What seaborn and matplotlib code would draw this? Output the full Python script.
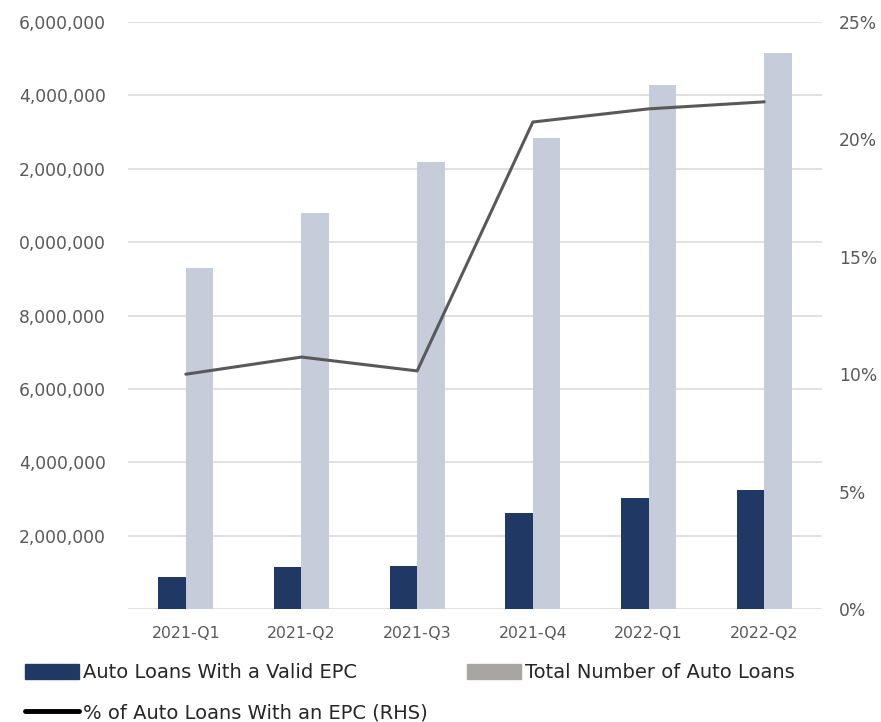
import matplotlib
matplotlib.use("Agg")
import matplotlib.pyplot as plt
import seaborn as sns
import pandas as pd
import numpy as np
from matplotlib.patches import Patch
from matplotlib.lines import Line2D

quarters = ["2021-Q1", "2021-Q2", "2021-Q3", "2021-Q4", "2022-Q1", "2022-Q2"]
epc_loans = [870000, 1140000, 1170000, 2620000, 3020000, 3240000]
total_loans = [9290000, 10790000, 12180000, 12830000, 14280000, 15150000]
pct_epc = [0.100, 0.1073, 0.1014, 0.2074, 0.2130, 0.2160]
left_ticks = [0, 2000000, 4000000, 6000000, 8000000, 10000000, 12000000, 14000000, 16000000]
left_tick_labels = ["", "2,000,000", "4,000,000", "6,000,000", "8,000,000",
                    "0,000,000", "2,000,000", "4,000,000", "6,000,000"]
right_ticks = [0, 0.05, 0.10, 0.15, 0.20, 0.25]
right_tick_labels = ["0%", "5%", "10%", "15%", "20%", "25%"]
series_names = ["Auto Loans With a Valid EPC", "Total Number of Auto Loans"]
line_name = "% of Auto Loans With an EPC (RHS)"

dark = "#1F3864"
light = "#C6CCD9"
legend_gray = "#A8A5A5"
line_col = "#595959"
tick_col = "#595959"
grid_col = "#D9D9D9"

sns.set_style("white")
plt.rcParams["font.family"] = ["DejaVu Sans"]

df = pd.DataFrame({
    "Quarter": quarters * 2,
    "Value": epc_loans + total_loans,
    "Series": [series_names[0]] * len(quarters) + [series_names[1]] * len(quarters),
})

fig = plt.figure(figsize=(8.81, 7.22), dpi=100)
ax = fig.add_axes([128 / 881, 1 - 609 / 722, (822 - 128) / 881, (609 - 22) / 722])

sns.barplot(data=df, x="Quarter", y="Value", hue="Series", order=quarters,
            hue_order=series_names, palette=[dark, light], width=0.475,
            saturation=1, ax=ax, legend=False, linewidth=0)

ax.set_xlim(-0.5, len(quarters) - 0.5)
ax.set_ylim(0, 16000000)
ax.set_yticks(left_ticks)
ax.set_yticklabels(left_tick_labels)
ax.set_xlabel("")
ax.set_ylabel("")
for s in ax.spines.values():
    s.set_visible(False)
ax.grid(axis="y", color=grid_col, linewidth=1.1)
ax.set_axisbelow(True)
ax.tick_params(axis="y", length=0, pad=16, labelsize=12.3, labelcolor=tick_col)
ax.tick_params(axis="x", length=0, pad=12, labelsize=11.3, labelcolor=tick_col)

ax2 = ax.twinx()
sns.lineplot(x=np.arange(len(quarters)), y=pct_epc, ax=ax2, color=line_col,
             linewidth=2.2, sort=False)
ax2.set_ylim(0, 0.25)
ax2.set_yticks(right_ticks)
ax2.set_yticklabels(right_tick_labels)
ax2.set_xlim(-0.5, len(quarters) - 0.5)
for s in ax2.spines.values():
    s.set_visible(False)
ax2.tick_params(axis="y", length=0, pad=12, labelsize=12.3, labelcolor=tick_col)
ax2.grid(False)

handles = [
    Patch(facecolor=dark, edgecolor=dark),
    Line2D([0], [0], color="black", linewidth=3.5),
    Patch(facecolor=legend_gray, edgecolor=legend_gray),
]
labels = [series_names[0], line_name, series_names[1]]
fig.legend(handles, labels, ncol=2, loc="upper left",
           bbox_to_anchor=(25 / 881, 1 - 663 / 722), frameon=False,
           prop={"family": ["DejaVu Sans"], "size": 14},
           handlelength=2.8, handleheight=0.8, handletextpad=0.2,
           columnspacing=2.0, labelspacing=1.1, borderaxespad=0, borderpad=0,
           labelcolor="#262626")

fig.savefig("out.png", dpi=100)
